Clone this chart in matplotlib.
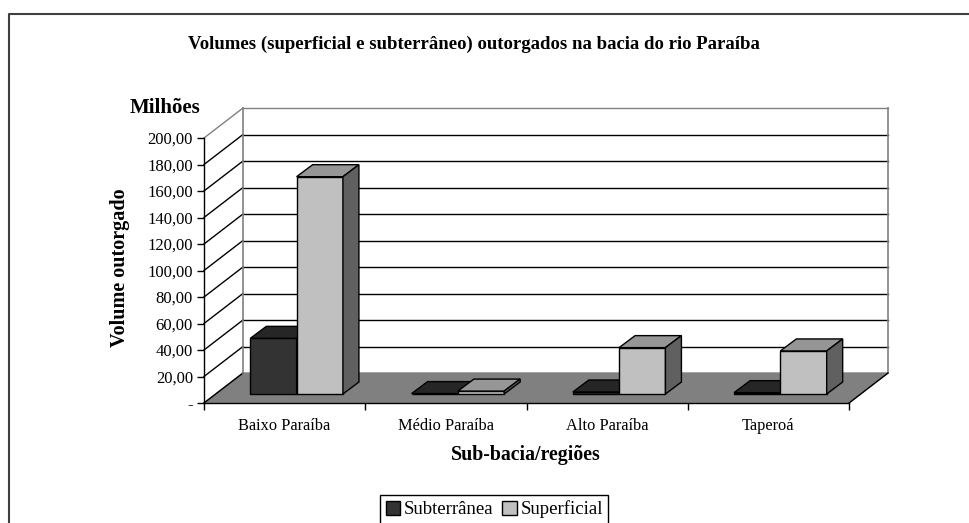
import numpy as np, matplotlib.pyplot as plt
from matplotlib.patches import Polygon, Patch
from matplotlib.lines import Line2D

plt.rcParams['font.family'] = ['Liberation Serif', 'DejaVu Serif']

W, H = 969, 523
categories = ["Baixo Paraíba", "Médio Paraíba", "Alto Paraíba", "Taperoá"]
subterranea = [42.0, 0.3, 1.5, 1.0]
superficial = [164.0, 2.2, 35.0, 32.5]
yticks = [0, 20, 40, 60, 80, 100, 120, 140, 160, 180, 200]
yticklabels = ["-", "20,00", "40,00", "60,00", "80,00", "100,00", "120,00",
               "140,00", "160,00", "180,00", "200,00"]

DARK, LIGHT = "#333333", "#c0c0c0"
WALL = "#808080"

fig = plt.figure(figsize=(W/100, H/100), dpi=100, facecolor="white")
# axes = front plane of the 3d box
L, R, T, B = 204, 849, 138, 403
ax = fig.add_axes([L/W, 1-B/H, (R-L)/W, (B-T)/H])
ax.set_xlim(-0.5, 3.5); ax.set_ylim(0, 200)
ax.patch.set_visible(False)
sx = 4/(R-L); sy = 200/(B-T)   # data units per pixel
DX, DY = 39*sx, 30*sy          # wall depth

def poly(pts, fc, ec="black", lw=1.0, z=2):
    ax.add_patch(Polygon(pts, closed=True, fc=fc, ec=ec, lw=lw, zorder=z, clip_on=False, joinstyle="miter"))

# floor
poly([(-0.5, 0), (3.5, 0), (3.5+DX, DY), (-0.5+DX, DY)], WALL, ec=WALL, z=1)
# gridlines on side wall and back wall
for v in yticks[1:]:
    c = WALL if v == 200 else "black"
    ax.plot([-0.5, -0.5+DX], [v, v+DY], color=c, lw=1.0, zorder=1, clip_on=False)
    ax.plot([-0.5+DX, 3.5+DX], [v+DY, v+DY], color=c, lw=1.0, zorder=1, clip_on=False)
ax.plot([-0.5, -0.5+DX], [0, DY], color="black", lw=1.0, zorder=1, clip_on=False)
ax.plot([-0.5+DX]*2, [DY, 200+DY], color=WALL, lw=1.2, zorder=1, clip_on=False)
ax.plot([3.5+DX]*2, [DY, 200+DY], color=WALL, lw=1.2, zorder=1, clip_on=False)
ax.plot([3.5, 3.5+DX], [0, DY], color="black", lw=1.0, zorder=1, clip_on=False)

BW = 46.3*sx
OX, OY = 12*sx, 9*sy     # bar offset from front plane
BDX, BDY = 16*sx, 12*sy  # bar depth

def box(x0, v, front, top, side, z):
    x1 = x0+BW
    poly([(x0+OX, OY), (x1+OX, OY), (x1+OX, OY+v), (x0+OX, OY+v)], front, z=z)
    poly([(x0+OX, OY+v), (x1+OX, OY+v), (x1+OX+BDX, OY+v+BDY), (x0+OX+BDX, OY+v+BDY)], top, z=z)
    poly([(x1+OX, OY), (x1+OX+BDX, OY+BDY), (x1+OX+BDX, OY+v+BDY), (x1+OX, OY+v)], side, z=z)

for i in range(len(categories)):
    box(i-BW, subterranea[i], DARK, "#262626", "#1a1a1a", 3)
    box(i, superficial[i], LIGHT, "#969696", "#606060", 4)

for s in ["top", "right"]:
    ax.spines[s].set_visible(False)
for s in ["left", "bottom"]:
    ax.spines[s].set_linewidth(1.0); ax.spines[s].set_zorder(5)
ax.set_yticks(yticks); ax.set_yticklabels(yticklabels)
ax.set_xticks(np.arange(-0.5, 4)); ax.set_xticklabels([])
ax.set_xticks(range(4), categories, minor=True)
ax.tick_params(axis="x", which="minor", length=0, labelsize=11.8, pad=11)
ax.tick_params(axis="x", which="major", length=5, width=1)
ax.tick_params(axis="y", length=5, width=1, labelsize=12, pad=3)

fig.text(474/W, 1-44/H, "Volumes (superficial e subterrâneo) outorgados na bacia do rio Paraíba",
         ha="center", va="center", fontsize=13.5, weight="bold")
fig.text(165/W, 1-108/H, "Milhões", ha="center", va="center", fontsize=15, weight="bold")
fig.text(120/W, 1-268/H, "Volume outorgado", rotation=90, ha="center", va="center", fontsize=14.5, weight="bold")
fig.text(526/W, 1-455/H, "Sub-bacia/regiões", ha="center", va="center", fontsize=14.3, weight="bold")

# outer frame, only top and left are inside the picture
fig.add_artist(Line2D([8.5/W, 8.5/W, 1], [0, 1-13.5/H, 1-13.5/H], color="#404040", lw=1.5))

leg = fig.legend(handles=[Patch(fc=DARK, ec="black", label="Subterrânea"),
                          Patch(fc=LIGHT, ec="black", label="Superficial")],
                 loc="lower left", bbox_to_anchor=(380/W, -1/H), ncol=2, fontsize=13.5,
                 fancybox=False, edgecolor="black", framealpha=1, borderpad=0.3,
                 handlelength=0.75, handleheight=0.75, handletextpad=0.2, columnspacing=0.5, borderaxespad=0)
leg.get_frame().set_linewidth(1.0)

fig.savefig("out.png", dpi=100)
